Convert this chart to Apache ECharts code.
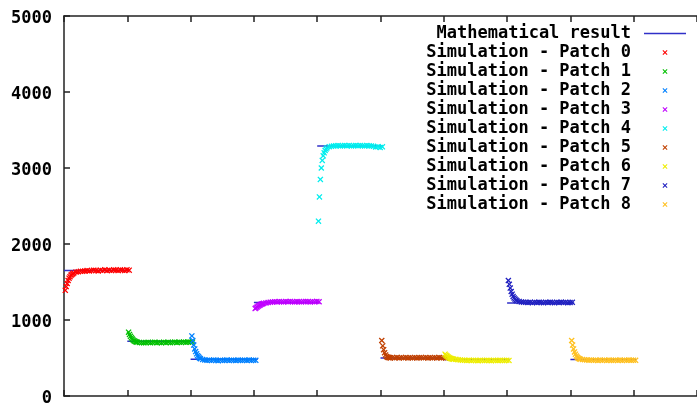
<!DOCTYPE html>
<html>
<head>
<meta charset="utf-8">
<script src="https://cdn.jsdelivr.net/npm/echarts@6/dist/echarts.min.js"></script>
<style>
  html, body { margin: 0; padding: 0; background: #fff; }
  #chart { width: 697px; height: 407px; }
</style>
</head>
<body>
<div id="chart"></div>
<script>
// sample positions inside one patch (offset from the patch index on x)
const sampleOffsets = [
  0.02, 0.035, 0.05, 0.065, 0.08, 0.095, 0.11, 0.125, 0.14, 0.155,
  0.19, 0.225, 0.26, 0.295, 0.33, 0.365, 0.40, 0.435, 0.47, 0.505,
  0.54, 0.575, 0.61, 0.645, 0.68, 0.715, 0.75, 0.785, 0.82, 0.855,
  0.89, 0.925, 0.96, 0.995, 1.03
];

// 理论值 (one per patch)
const mathResult = [1650, 720, 485, 1230, 3290, 500, 480, 1225, 480];
const mathStart = [0, 1.0, 2.0, 3.0, 4.0, 5.0, 6.0, 7.0, 8.0];
const mathEnd = [1.04, 2.04, 3.06, 4.04, 5.04, 6.06, 7.04, 8.06, 9.04];

// simulation values per patch
const patch0 = [1390, 1440, 1480, 1520, 1550, 1570, 1590, 1600, 1610, 1620, 1630, 1635, 1640, 1640, 1645, 1650, 1645, 1650, 1655, 1650, 1645, 1655, 1650, 1660, 1650, 1655, 1650, 1660, 1655, 1650, 1660, 1655, 1650, 1660, 1655];
const patch1 = [840, 810, 785, 765, 750, 735, 725, 718, 712, 708, 705, 702, 700, 703, 706, 700, 704, 708, 702, 705, 700, 706, 703, 708, 702, 705, 710, 704, 708, 705, 710, 706, 712, 708, 710];
const patch2 = [790, 730, 670, 620, 585, 555, 530, 515, 500, 490, 480, 475, 470, 472, 468, 475, 470, 465, 472, 468, 470, 475, 468, 472, 470, 466, 474, 470, 468, 472, 470, 475, 468, 472, 470];
const patch3 = [1150, 1160, 1170, 1180, 1190, 1195, 1205, 1210, 1215, 1220, 1225, 1230, 1235, 1238, 1240, 1238, 1242, 1240, 1238, 1242, 1240, 1244, 1240, 1238, 1242, 1240, 1238, 1242, 1245, 1240, 1238, 1242, 1240, 1244, 1240];
const patch4 = [2300, 2620, 2850, 3000, 3100, 3160, 3200, 3230, 3250, 3265, 3280, 3285, 3290, 3292, 3295, 3290, 3293, 3296, 3292, 3295, 3290, 3294, 3296, 3292, 3295, 3293, 3290, 3296, 3292, 3290, 3285, 3275, 3280, 3270, 3278];
const patch5 = [730, 660, 610, 570, 540, 520, 510, 505, 505, 500, 505, 502, 505, 500, 505, 502, 506, 500, 504, 502, 505, 500, 504, 506, 502, 505, 500, 504, 502, 506, 500, 505, 502, 504, 500];
const patch6 = [550, 535, 525, 515, 505, 500, 495, 490, 488, 485, 482, 478, 475, 472, 470, 468, 470, 466, 470, 468, 465, 470, 468, 466, 470, 468, 465, 470, 468, 466, 470, 468, 466, 470, 468];
const patch7 = [1520, 1470, 1420, 1375, 1340, 1310, 1290, 1275, 1262, 1252, 1245, 1238, 1235, 1232, 1230, 1232, 1228, 1232, 1230, 1234, 1230, 1228, 1232, 1230, 1234, 1230, 1228, 1232, 1230, 1234, 1230, 1232, 1228, 1230, 1232];
const patch8 = [730, 670, 620, 580, 550, 525, 510, 498, 490, 485, 480, 478, 475, 472, 474, 470, 472, 468, 474, 470, 472, 468, 474, 470, 468, 472, 470, 474, 468, 472, 470, 474, 470, 472, 470];

const patches = [patch0, patch1, patch2, patch3, patch4, patch5, patch6, patch7, patch8];
const patchColors = ['#ff0000', '#00c000', '#0080ff', '#c000ff', '#00eeee', '#c04000', '#eeee00', '#2020c0', '#ffc020'];
const yTicks = [0, 1000, 2000, 3000, 4000, 5000];

const fontMono = '"DejaVu Sans Mono", monospace';
const xMark = 'path://M0,1.5L1.5,0L5,3.5L8.5,0L10,1.5L6.5,5L10,8.5L8.5,10L5,6.5L1.5,10L0,8.5L3.5,5Z';
const mathColor = '#3030c8';

// math result as broken line, one segment per patch
const mathData = [];
mathResult.forEach((v, i) => {
  mathData.push([mathStart[i], v], [mathEnd[i], v], [mathEnd[i], null]);
});

const series = [{
  name: 'Mathematical result',
  type: 'line',
  data: mathData,
  symbol: 'none',
  connectNulls: false,
  lineStyle: { color: mathColor, width: 1.5 },
  itemStyle: { color: mathColor },
  z: 1
}];

patches.forEach((vals, i) => {
  series.push({
    name: 'Simulation - Patch ' + i,
    type: 'scatter',
    symbol: xMark,
    symbolSize: 6,
    data: vals.map((v, k) => [i + sampleOffsets[k], v]),
    itemStyle: { color: patchColors[i], opacity: 1 },
    z: 2
  });
});

const legendData = series.map(s => (
  s.type === 'line'
    ? { name: s.name, icon: 'path://M0,0H42V1.5H0Z', itemStyle: { color: mathColor } }
    : { name: s.name }
));

const chart = echarts.init(document.getElementById('chart'));
chart.setOption({
  animation: false,
  backgroundColor: '#fff',
  grid: { left: 64, top: 16, right: -7, bottom: 6 },
  legend: {
    orient: 'vertical',
    right: 6,
    top: 19,
    align: 'right',
    itemWidth: 42,
    itemHeight: 5,
    itemGap: 0,
    data: legendData,
    formatter: name => (name === 'Mathematical result' ? ' ' + name : name),
    textStyle: {
      fontFamily: fontMono,
      fontWeight: 'bold',
      fontSize: 17,
      color: '#000',
      lineHeight: 19,
      padding: [0, 8, 0, 0]
    }
  },
  xAxis: [{
    type: 'value',
    position: 'bottom',
    min: 0,
    max: 10,
    interval: 1,
    axisLine: { lineStyle: { color: '#222', width: 1.5 } },
    axisTick: { inside: true, length: 6, lineStyle: { color: '#222', width: 1.5 } },
    axisLabel: { show: false },
    splitLine: { show: false }
  }, {
    type: 'value',
    position: 'top',
    min: 0,
    max: 10,
    interval: 1,
    axisLine: { lineStyle: { color: '#222', width: 1.5 } },
    axisTick: { inside: true, length: 6, lineStyle: { color: '#222', width: 1.5 } },
    axisLabel: { show: false },
    splitLine: { show: false }
  }],
  yAxis: {
    type: 'value',
    min: yTicks[0],
    max: yTicks[yTicks.length - 1],
    interval: 1000,
    axisLine: { show: true, lineStyle: { color: '#222', width: 1.5 } },
    axisTick: { show: true, inside: true, length: 6, lineStyle: { color: '#222', width: 1.5 } },
    axisLabel: {
      margin: 12,
      formatter: v => '{t|' + v + '}',
      rich: {
        t: {
          fontFamily: fontMono,
          fontWeight: 'bold',
          fontSize: 17,
          color: '#000',
          padding: [5, 0, 0, 0]
        }
      }
    },
    splitLine: { show: false }
  },
  series: series
});
</script>
</body>
</html>
